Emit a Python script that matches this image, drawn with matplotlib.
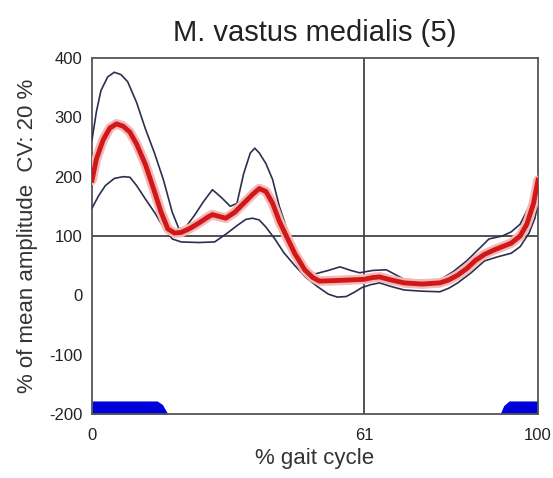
import numpy as np
import matplotlib
matplotlib.use("Agg")
import matplotlib.pyplot as plt

plt.rcParams['font.family'] = ['Liberation Sans', 'DejaVu Sans']
plt.rcParams['axes.unicode_minus'] = False

# moyenne (rouge)
x_mean = [0, 1, 2.5, 4, 5.5, 7, 8.5, 10, 12, 14, 15.5, 17, 18.5, 20, 22, 24, 26, 27, 28.5, 30, 32, 34, 36, 37.5, 39,
          40.5, 42, 43.7, 45.5, 47.7, 49.5, 51, 55, 58, 61, 63, 64.5, 67, 70, 74, 78, 80, 82, 84, 86, 88, 90, 92, 94,
          96, 97.5, 99, 100]
y_mean = [194, 230, 262, 282, 289, 285, 275, 255, 220, 175, 140, 112, 105, 106, 113, 122, 132, 136, 133, 130, 140,
          155, 170, 180, 175, 155, 125, 98, 70, 43, 30, 24, 25, 26, 27, 30, 31, 26, 21, 19, 21, 26, 34, 45, 59, 69,
          76, 82, 88, 100, 120, 155, 194]

# enveloppe haute
x_up = [0, 1, 2, 3.5, 5, 6.5, 8, 10, 12, 14, 16, 18, 19.5, 21, 23, 25, 27, 29, 31, 32.5, 34, 35.5, 36.5, 37.5, 39,
        40.5, 42, 44, 46, 48, 50, 53, 55.6, 58, 60, 63, 66, 68, 70, 74, 78, 81, 84, 87, 89, 92, 94, 96, 98, 100]
y_up = [262, 310, 345, 368, 376, 372, 360, 325, 280, 240, 195, 140, 112, 115, 135, 158, 178, 165, 150, 155, 205,
        240, 248, 240, 222, 195, 150, 105, 70, 45, 36, 42, 48, 42, 38, 42, 43, 35, 27, 25, 26, 40, 58, 80, 95, 100,
        107, 120, 150, 200]

# enveloppe basse
x_lo = [0, 1.5, 3, 5, 7, 8.5, 10, 12, 14, 16, 18, 20, 24, 27.5, 30, 32.6, 34.5, 36, 37.5, 39, 41, 43, 45.5, 48,
        50.5, 53, 55, 57, 59, 60.5, 62.5, 64.5, 67, 70, 74, 78, 80, 82, 85, 88, 91, 94, 96, 98, 99.3, 100]
y_lo = [147, 168, 185, 197, 200, 199, 185, 162, 140, 115, 95, 90, 89, 90, 103, 118, 128, 130, 127, 115, 95, 72,
        50, 30, 15, 2, -3, -2, 6, 13, 18, 21, 15, 9, 7, 6, 12, 21, 38, 58, 65, 71, 82, 105, 130, 155]

# phases d'appui (bleu)
x_blue1 = [0, 14.6, 15.8, 17]
y_blue1 = [-178, -178, -184, -200]
x_blue2 = [91.5, 92.3, 93.5, 100]
y_blue2 = [-200, -186, -178, -178]

xticks = [0, 61, 100]
yticks = [-200, -100, 0, 100, 200, 300, 400]

fig = plt.figure(figsize=(5.53, 4.78), dpi=100)
ax = fig.add_axes([92/553, 64/478, 446/553, 356/478])

ax.axhline(y=100, color='#444444', lw=1.3, zorder=1)
ax.axvline(x=61, color='#444444', lw=1.3, zorder=1)

ax.fill_between(x_blue1, -200, y_blue1, color='#0000dd', lw=0, zorder=2)
ax.fill_between(x_blue2, -200, y_blue2, color='#0000dd', lw=0, zorder=2)

ax.plot(x_up, y_up, color='#2b3050', lw=1.2, zorder=3)
ax.plot(x_lo, y_lo, color='#2b3050', lw=1.2, zorder=3)
ax.plot(x_mean, y_mean, color='#f4b8b8', lw=7, zorder=4, solid_capstyle='round')
ax.plot(x_mean, y_mean, color='#d01818', lw=3.5, zorder=5)

ax.set_xlim(0, 100)
ax.set_ylim(-200, 400)
ax.set_xticks(xticks)
ax.set_yticks(yticks)
ax.tick_params(length=0, labelsize=12, colors='#222222')
ax.tick_params(axis='y', pad=7)
ax.tick_params(axis='x', pad=10)
for s in ax.spines.values():
    s.set_color('#555555')
    s.set_linewidth(1.3)

ax.set_title('M. vastus medialis (5)', fontsize=21, pad=12, color='#222222')
ax.set_xlabel('% gait cycle', fontsize=16, color='#333333', labelpad=4)
ax.set_ylabel('% of mean amplitude  CV: 20 %', fontsize=16, color='#333333', labelpad=8)

plt.savefig('out.png', dpi=100)
